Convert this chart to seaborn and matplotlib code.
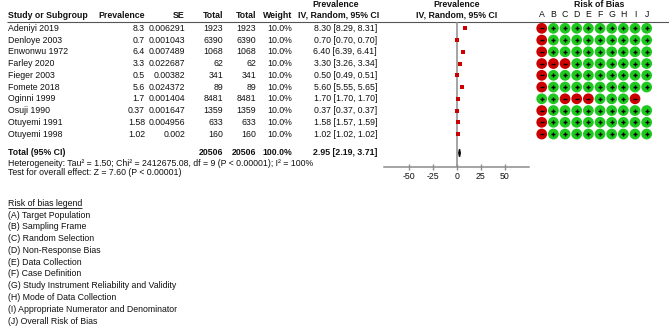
import numpy as np
import pandas as pd
import matplotlib
matplotlib.use("Agg")
import matplotlib.pyplot as plt
import seaborn as sns

# study data
studies = ["Adeniyi 2019", "Denloye 2003", "Enwonwu 1972", "Farley 2020", "Fieger 2003",
           "Fomete 2018", "Oginni 1999", "Osuji 1990", "Otuyemi 1991", "Otuyemi 1998"]
prevalence = [8.3, 0.7, 6.4, 3.3, 0.5, 5.6, 1.7, 0.37, 1.58, 1.02]
se = [0.006291, 0.001043, 0.007489, 0.022687, 0.00382, 0.024372, 0.001404, 0.001647, 0.004956, 0.002]
totals = [1923, 6390, 1068, 62, 341, 89, 8481, 1359, 633, 160]
weights = [10.0, 10.0, 10.0, 10.0, 10.0, 10.0, 10.0, 10.0, 10.0, 10.0]
ci_low = [8.29, 0.70, 6.39, 3.26, 0.49, 5.55, 1.70, 0.37, 1.57, 1.02]
ci_high = [8.31, 0.70, 6.41, 3.34, 0.51, 5.65, 1.70, 0.37, 1.59, 1.02]
pooled, pooled_low, pooled_high = 2.95, 2.19, 3.71
x_ticks = [-50, -25, 0, 25, 50]

# risk of bias judgements per study, domains A..J (' ' = not assessed)
domains = list("ABCDEFGHIJ")
rob = ["-+++++++++", "-+++++++++", "-+++++++++", "---+++++++", "-+++++++++",
       "-+++++++++", "++---+++- ", "-+++++++++", "-+++++++++", "-+++++++++"]

heterogeneity = "Heterogeneity: Tau\u00b2 = 1.50; Chi\u00b2 = 2412675.08, df = 9 (P < 0.00001); I\u00b2 = 100%"
overall = "Test for overall effect: Z = 7.60 (P < 0.00001)"
legend_title = "Risk of bias legend"
legend_items = ["(A) Target Population", "(B) Sampling Frame", "(C) Random Selection",
                "(D) Non-Response Bias", "(E) Data Collection", "(F) Case Definition",
                "(G) Study Instrument Reliability and Validity", "(H) Mode of Data Collection",
                "(I) Appropriate Numerator and Denominator", "(J) Overall Risk of Bias"]

sns.set_theme(style="white")
plt.rcParams['font.family'] = ['Liberation Sans', 'DejaVu Sans']
plt.rcParams['axes.unicode_minus'] = False

W, H = 669, 326
fs = 6.3
txt = '#111111'
red = '#cc0000'
green = '#1ec81e'
row0, dy = 28.3, 11.75
total_row = 10.61

def ry(i):
    return row0 + dy * i

fig = plt.figure(figsize=(W / 100, H / 100), dpi=100)
bg = fig.add_axes([0, 0, 1, 1])
bg.set_xlim(0, W)
bg.set_ylim(H, 0)
bg.axis('off')

# header
bg.text(8, 15, "Study or Subgroup", ha='left', va='center', fontsize=fs, fontweight='bold', color=txt)
bg.text(145, 15, "Prevalence", ha='right', va='center', fontsize=fs, fontweight='bold', color=txt)
bg.text(185, 15, "SE", ha='right', va='center', fontsize=fs, fontweight='bold', color=txt)
bg.text(223, 15, "Total", ha='right', va='center', fontsize=fs, fontweight='bold', color=txt)
bg.text(256, 15, "Total", ha='right', va='center', fontsize=fs, fontweight='bold', color=txt)
bg.text(292, 15, "Weight", ha='right', va='center', fontsize=fs, fontweight='bold', color=txt)
bg.text(336, 4.5, "Prevalence", ha='center', va='center', fontsize=fs, fontweight='bold', color=txt)
bg.text(339, 15, "IV, Random, 95% CI", ha='center', va='center', fontsize=fs, fontweight='bold', color=txt)
bg.text(457, 4.5, "Prevalence", ha='center', va='center', fontsize=fs, fontweight='bold', color=txt)
bg.text(457, 15, "IV, Random, 95% CI", ha='center', va='center', fontsize=fs, fontweight='bold', color=txt)
bg.text(599, 4.5, "Risk of Bias", ha='center', va='center', fontsize=fs, fontweight='bold', color=txt)
bg.hlines(22, 7, W, color='#555555', lw=0.8)

# study rows
for i, name in enumerate(studies):
    y = ry(i)
    bg.text(8, y, name, ha='left', va='center', fontsize=fs, color=txt)
    bg.text(145, y, f"{prevalence[i]:g}", ha='right', va='center', fontsize=fs, color=txt)
    bg.text(185, y, f"{se[i]:g}", ha='right', va='center', fontsize=fs, color=txt)
    bg.text(223, y, f"{totals[i]}", ha='right', va='center', fontsize=fs, color=txt)
    bg.text(256, y, f"{totals[i]}", ha='right', va='center', fontsize=fs, color=txt)
    bg.text(292, y, f"{weights[i]:.1f}%", ha='right', va='center', fontsize=fs, color=txt)
    bg.text(377, y, f"{prevalence[i]:.2f} [{ci_low[i]:.2f}, {ci_high[i]:.2f}]",
            ha='right', va='center', fontsize=fs, color=txt)

yt = ry(total_row)
bg.text(8, yt, "Total (95% CI)", ha='left', va='center', fontsize=fs, fontweight='bold', color=txt)
bg.text(223, yt, f"{sum(totals)}", ha='right', va='center', fontsize=fs, fontweight='bold', color=txt)
bg.text(256, yt, f"{sum(totals)}", ha='right', va='center', fontsize=fs, fontweight='bold', color=txt)
bg.text(292, yt, f"{sum(weights):.1f}%", ha='right', va='center', fontsize=fs, fontweight='bold', color=txt)
bg.text(377, yt, f"{pooled:.2f} [{pooled_low:.2f}, {pooled_high:.2f}]",
        ha='right', va='center', fontsize=fs, fontweight='bold', color=txt)
bg.text(8, 163.7, heterogeneity, ha='left', va='center', fontsize=fs, color=txt)
bg.text(8, 172.5, overall, ha='left', va='center', fontsize=fs, color=txt)

# legend block
lt = bg.text(8, 204, legend_title, ha='left', va='center', fontsize=fs, color=txt)
for k, item in enumerate(legend_items):
    bg.text(8, 215 + 11.8 * k, item, ha='left', va='center', fontsize=fs, color=txt)

# forest plot panel
top_px, bot_px = 22, 166.7
ylims = ((bot_px - row0) / dy, (top_px - row0) / dy)
fx0, fx1 = 384.2, 529.2
ax = fig.add_axes([fx0 / W, 1 - bot_px / H, (fx1 - fx0) / W, (bot_px - top_px) / H])
ax.patch.set_alpha(0)
forest = pd.DataFrame({"study": studies, "prev": prevalence, "row": np.arange(len(studies))})
sns.scatterplot(data=forest, x="prev", y="row", marker='s', s=7, color=red,
                edgecolor=red, linewidth=0, ax=ax, zorder=3)
ax.axvline(0, color='#8c8c8c', lw=1.1, zorder=1)
ax.fill([pooled_low, pooled, pooled_high, pooled],
        [total_row, total_row - 0.32, total_row, total_row + 0.32], color='black', zorder=3)
ax.set_xlim(-75.5, 75.5)
ax.set_ylim(*ylims)
ax.set_xticks(x_ticks)
ax.set_xticklabels([str(t) for t in x_ticks])
ax.set_yticks([])
ax.set_xlabel("")
ax.set_ylabel("")
for sp in ['top', 'right', 'left']:
    ax.spines[sp].set_visible(False)
ax.spines['bottom'].set_color('#8c8c8c')
ax.spines['bottom'].set_linewidth(1.1)
ax.tick_params(axis='x', direction='inout', length=5, width=1, color='#8c8c8c',
               labelsize=fs, labelcolor=txt, pad=1, bottom=True)

# risk of bias panel
rows, cols, marks = [], [], []
for i, s in enumerate(rob):
    for j, m in enumerate(s):
        if m.strip():
            rows.append(i)
            cols.append(j)
            marks.append(m)
rob_df = pd.DataFrame({"row": rows, "dom": cols, "mark": marks})
rx0, rx1 = 535.9, 652.5
rax = fig.add_axes([rx0 / W, 1 - bot_px / H, (rx1 - rx0) / W, (bot_px - top_px) / H])
rax.patch.set_alpha(0)
sns.scatterplot(data=rob_df, x="dom", y="row", hue="mark", palette={"+": green, "-": red},
                s=60, linewidth=0, legend=False, ax=rax, zorder=2)
plus = rob_df[rob_df["mark"] == "+"]
minus = rob_df[rob_df["mark"] == "-"]
rax.scatter(plus["dom"], plus["row"], marker='+', s=11, color='black', linewidths=1.0, zorder=3)
rax.scatter(minus["dom"], minus["row"], marker='_', s=11, color='black', linewidths=1.0, zorder=3)
rax.set_xlim(-0.5, 9.5)
rax.set_ylim(*ylims)
rax.set_xticks(range(len(domains)))
rax.set_xticklabels(domains)
rax.xaxis.tick_top()
rax.tick_params(axis='x', length=0, pad=2.0, labelsize=fs, labelcolor=txt)
rax.set_yticks([])
rax.set_xlabel("")
rax.set_ylabel("")
for sp in rax.spines.values():
    sp.set_visible(False)

# underline legend title
fig.canvas.draw()
bb = lt.get_window_extent(fig.canvas.get_renderer())
(ux0, uy0), (ux1, uy1) = bg.transData.inverted().transform([[bb.x0, bb.y0], [bb.x1, bb.y1]])
bg.hlines(max(uy0, uy1) - 0.5, ux0, ux1, color=txt, lw=0.6)

fig.savefig("out.png", dpi=100)
